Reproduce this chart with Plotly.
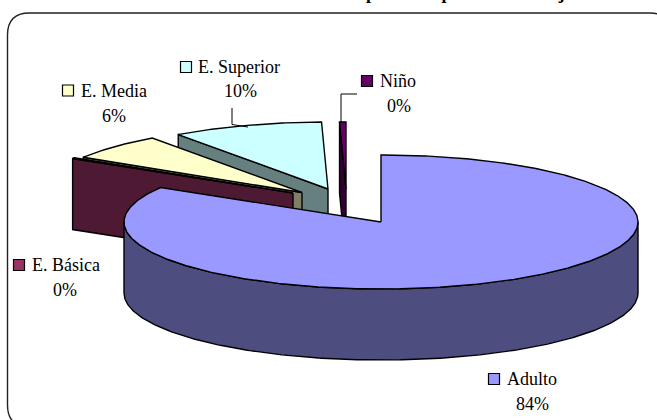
import math
import plotly.graph_objects as go

# --- data ---
categories = ["Adulto", "E. Básica", "E. Media", "E. Superior", "Niño"]
values = [83.6, 0.2, 6.3, 9.5, 0.4]
pct_labels = ["84%", "0%", "6%", "10%", "0%"]
title_text = "Distribución de pacientes por edad del sujeto"

# --- styling / layout ---
top_colors = ["#9999FF", "#993366", "#FFFFCC", "#CCFFFF", "#660066"]
wall_colors = ["#4D4D80", "#4D1933", "#808066", "#668080", "#330033"]
apex = [(381, 222), (293, 193), (302, 192.5), (328, 189), (346, 189)]
label_pos = [(494, 379, 505, 532, 404), (19, 265, 30, 65, 290), (68, 90.5, 79, 114, 116),
             (186, 67, 196, 240, 91), (367, 81, 378, 399, 106)]
RX, RY, DEPTH = 257, 67, 71
W, H = 657, 420
FONT = "Liberation Serif"

def point(c, deg):
    t = math.radians(deg)
    return c[0] + RX * math.sin(t), c[1] - RY * math.cos(t)

def arc(c, a, b):
    n = max(2, int(abs(b - a) * 1.5))
    return [point(c, a + (b - a) * i / n) for i in range(n + 1)]

def poly(pts, fill):
    xs = [p[0] for p in pts] + [pts[0][0]]
    ys = [p[1] for p in pts] + [pts[0][1]]
    return go.Scatter(x=xs, y=ys, mode="lines", fill="toself", fillcolor=fill,
                      line=dict(color="black", width=1.4), hoverinfo="skip", showlegend=False)

total = sum(values)
angles = []
acc = 0
for v in values:
    angles.append((acc / total * 360, (acc + v) / total * 360))
    acc += v

fig = go.Figure()
# back slices first, the big slice last
for i in [4, 3, 2, 1, 0]:
    a, b = angles[i]
    c = apex[i]
    if i == 0:
        rim = arc(c, 90, 270)
        wall = rim + [(x, y + DEPTH) for x, y in reversed(rim)]
    else:
        s = point(c, a)
        wall = [c, s, (s[0], s[1] + DEPTH), (c[0], c[1] + DEPTH)]
    fig.add_trace(poly(wall, wall_colors[i]))
    fig.add_trace(poly([c] + arc(c, a, b), top_colors[i]))

# leader lines
for lx, ly in [([232, 232, 248], [108, 124.5, 127]), ([357, 341, 341], [94, 94, 122])]:
    fig.add_trace(go.Scatter(x=lx, y=ly, mode="lines", line=dict(color="black", width=1),
                             hoverinfo="skip", showlegend=False))

annotations = []
for i, (kx, ky, tx, px, py) in enumerate(label_pos):
    fig.add_trace(go.Scatter(x=[kx], y=[ky], mode="markers", hoverinfo="skip", showlegend=False,
                             marker=dict(symbol="square", size=11, color=top_colors[i],
                                         line=dict(color="black", width=1.2))))
    annotations.append(dict(x=tx, y=ky, text=categories[i], xanchor="left", yanchor="middle",
                            xref="x", yref="y"))
    annotations.append(dict(x=px, y=py, text=pct_labels[i], xanchor="center", yanchor="middle",
                            xref="x", yref="y"))
# the title is cut by the top edge of the picture: only its descenders show
annotations.append(dict(x=241 / W, y=1, text="<b>" + title_text + "</b>", xanchor="left",
                        yanchor="bottom", yshift=-5, xref="paper", yref="paper"))

frame = "M 7.5 35 Q 7.5 13 29.5 13 L 650 13 Q 672 13 672 35 L 672 405 Q 672 427 650 427 L 29.5 427 Q 7.5 427 7.5 405 Z"

fig.update_layout(
    width=W, height=H, autosize=False,
    margin=dict(l=0, r=0, t=0, b=0),
    paper_bgcolor="white", plot_bgcolor="white",
    font=dict(family=FONT, size=18, color="black"),
    xaxis=dict(range=[0, W], visible=False, fixedrange=True),
    yaxis=dict(range=[H, 0], visible=False, fixedrange=True),
    shapes=[dict(type="path", path=frame, line=dict(color="#222222", width=1.4), layer="below")],
    annotations=[dict(a, showarrow=False) for a in annotations],
)
fig.write_html("out.html", config={"displayModeBar": False},
               post_script="document.body.style.margin='0';")
